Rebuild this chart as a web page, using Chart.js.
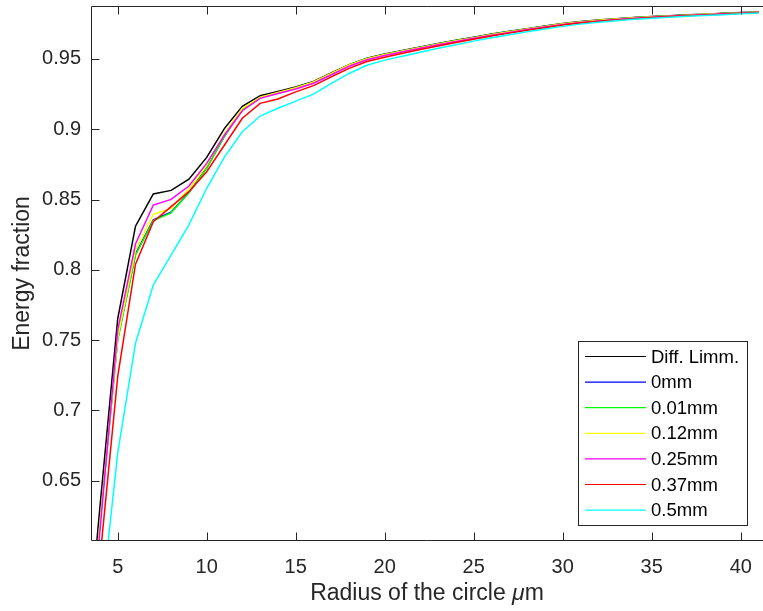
<!DOCTYPE html>
<html>
<head>
<meta charset="utf-8">
<script src="https://cdn.jsdelivr.net/npm/chart.js@4"></script>
<style>
  html, body { margin: 0; padding: 0; background: #fff; }
</style>
</head>
<body>
<canvas id="energyChart" width="763" height="611"></canvas>
<script>
// radius of the circle (um)
const radius = [3, 4, 5, 6, 7, 8, 9, 10, 11, 12, 13, 14, 15, 16, 17, 18, 19, 20, 21, 22,
  23, 24, 25, 26, 27, 28, 29, 30, 31, 32, 33, 34, 35, 36, 37, 38, 39, 40, 41];

const diffLimm = [0.491, 0.631, 0.765, 0.831, 0.854, 0.8565, 0.8645, 0.880, 0.9006, 0.9163,
  0.9238, 0.9268, 0.9300, 0.9340, 0.9400, 0.9460, 0.9505, 0.9535, 0.9560, 0.9585,
  0.9610, 0.9633, 0.9655, 0.9677, 0.9697, 0.9716, 0.9734, 0.9752, 0.9766, 0.9777,
  0.9787, 0.9795, 0.9802, 0.9808, 0.9814, 0.9819, 0.9825, 0.9830, 0.9835];
const mm0 = [0.480, 0.620, 0.751, 0.8112, 0.8355, 0.8410, 0.8550, 0.8725, 0.8952, 0.9141,
  0.9226, 0.9259, 0.9294, 0.9335, 0.9396, 0.9456, 0.9501, 0.9531, 0.9556, 0.9581,
  0.9606, 0.9629, 0.9651, 0.9673, 0.9693, 0.9713, 0.9731, 0.9749, 0.9763, 0.9774,
  0.9784, 0.9793, 0.9800, 0.9806, 0.9812, 0.9817, 0.9823, 0.9828, 0.9833];
const mm001 = [0.479, 0.619, 0.750, 0.8105, 0.8350, 0.8405, 0.8548, 0.8722, 0.8950, 0.9140,
  0.9225, 0.9258, 0.9293, 0.9335, 0.9396, 0.9456, 0.9501, 0.9531, 0.9557, 0.9582,
  0.9607, 0.9630, 0.9652, 0.9674, 0.9694, 0.9713, 0.9731, 0.9749, 0.9763, 0.9774,
  0.9784, 0.9793, 0.9800, 0.9806, 0.9812, 0.9817, 0.9823, 0.9828, 0.9833];
const mm012 = [0.478, 0.618, 0.752, 0.8141, 0.8395, 0.8437, 0.8575, 0.8745, 0.8971, 0.9149,
  0.9228, 0.9261, 0.9295, 0.9336, 0.9397, 0.9457, 0.9502, 0.9532, 0.9557, 0.9582,
  0.9607, 0.9630, 0.9652, 0.9674, 0.9694, 0.9713, 0.9732, 0.9750, 0.9764, 0.9775,
  0.9785, 0.9793, 0.9800, 0.9806, 0.9812, 0.9818, 0.9823, 0.9828, 0.9834];
const mm025 = [0.474, 0.614, 0.757, 0.8183, 0.8461, 0.8501, 0.8596, 0.8757, 0.8959, 0.9132,
  0.9220, 0.9255, 0.9286, 0.9327, 0.9388, 0.9448, 0.9494, 0.9525, 0.9551, 0.9576,
  0.9601, 0.9624, 0.9647, 0.9669, 0.9689, 0.9709, 0.9727, 0.9745, 0.9760, 0.9771,
  0.9781, 0.9790, 0.9797, 0.9804, 0.9810, 0.9815, 0.9821, 0.9826, 0.9832];
const mm037 = [0.454, 0.594, 0.724, 0.804, 0.8342, 0.8449, 0.8556, 0.8698, 0.8888, 0.9078,
  0.9184, 0.9215, 0.9266, 0.9310, 0.9373, 0.9433, 0.9482, 0.9513, 0.9541, 0.9567,
  0.9593, 0.9617, 0.9640, 0.9663, 0.9684, 0.9704, 0.9722, 0.9741, 0.9756, 0.9768,
  0.9778, 0.9787, 0.9795, 0.9802, 0.9808, 0.9813, 0.9819, 0.9825, 0.9831];
const mm05 = [0.430, 0.552, 0.6695, 0.7477, 0.7892, 0.8105, 0.8319, 0.8580, 0.8804, 0.8982,
  0.9094, 0.9149, 0.9200, 0.9250, 0.9326, 0.9397, 0.9455, 0.9492, 0.9520, 0.9548,
  0.9576, 0.9602, 0.9627, 0.9651, 0.9673, 0.9694, 0.9713, 0.9732, 0.9748, 0.9761,
  0.9772, 0.9782, 0.9790, 0.9797, 0.9804, 0.9809, 0.9815, 0.9821, 0.9827];

const seriesNames = ["Diff. Limm.", "0mm", "0.01mm", "0.12mm", "0.25mm", "0.37mm", "0.5mm"];
const seriesValues = [diffLimm, mm0, mm001, mm012, mm025, mm037, mm05];
const seriesColors = ["#000000", "#0000ff", "#00ff00", "#ffff00", "#ff00ff", "#ff0000", "#00ffff"];

const xTicks = [5, 10, 15, 20, 25, 30, 35, 40];
const yTicks = [0.65, 0.7, 0.75, 0.8, 0.85, 0.9, 0.95];

const axisColor = "#262626";
const fontFamily = "'Liberation Sans', Arial, Helvetica, sans-serif";

// frame with inward ticks, axis titles and boxed legend, like a matlab figure
const matlabAxes = {
  id: "matlabAxes",
  afterDatasetsDraw(chart) {
    const ctx = chart.ctx;
    const area = chart.chartArea;
    const xs = chart.scales.x;
    const ys = chart.scales.y;
    const left = Math.round(area.left) + 0.5;
    const top = Math.round(area.top) + 0.5;
    const bottom = Math.round(area.bottom) - 0.5;
    const right = area.right;
    const tick = 8;

    ctx.save();
    ctx.strokeStyle = axisColor;
    ctx.lineWidth = 1;
    ctx.beginPath();
    ctx.moveTo(right, top);
    ctx.lineTo(left, top);
    ctx.lineTo(left, bottom);
    ctx.lineTo(right, bottom);
    xTicks.forEach((v) => {
      const px = Math.round(xs.getPixelForValue(v)) + 0.5;
      ctx.moveTo(px, bottom);
      ctx.lineTo(px, bottom - tick);
      ctx.moveTo(px, top);
      ctx.lineTo(px, top + tick);
    });
    yTicks.forEach((v) => {
      const py = Math.round(ys.getPixelForValue(v)) + 0.5;
      ctx.moveTo(left, py);
      ctx.lineTo(left + tick, py);
    });
    ctx.stroke();

    // x title with italic mu
    ctx.fillStyle = axisColor;
    ctx.textBaseline = "middle";
    ctx.textAlign = "left";
    const normal = "23px " + fontFamily;
    const italic = "italic 23px " + fontFamily;
    const parts = [["Radius of the circle ", normal], ["\u03bc", italic], ["m", normal]];
    let total = 0;
    parts.forEach((p) => { ctx.font = p[1]; total += ctx.measureText(p[0]).width; });
    let tx = (area.left + area.right) / 2 - total / 2;
    parts.forEach((p) => {
      ctx.font = p[1];
      ctx.fillText(p[0], tx, 594);
      tx += ctx.measureText(p[0]).width;
    });

    // y title
    ctx.save();
    ctx.translate(23, (area.top + area.bottom) / 2);
    ctx.rotate(-Math.PI / 2);
    ctx.textAlign = "center";
    ctx.font = normal;
    ctx.fillText("Energy fraction", 0, 0);
    ctx.restore();

    // legend
    const boxL = 578.5, boxT = 341.5, boxR = 747.5, boxB = 525.5;
    ctx.fillStyle = "#ffffff";
    ctx.fillRect(boxL, boxT, boxR - boxL, boxB - boxT);
    ctx.strokeStyle = axisColor;
    ctx.strokeRect(boxL, boxT, boxR - boxL, boxB - boxT);
    ctx.font = "18.5px " + fontFamily;
    ctx.textAlign = "left";
    ctx.textBaseline = "middle";
    chart.data.datasets.forEach((ds, i) => {
      const y = 356.5 + i * 25.6;
      ctx.strokeStyle = ds.borderColor;
      ctx.lineWidth = 1.2;
      ctx.beginPath();
      ctx.moveTo(585, y);
      ctx.lineTo(646, y);
      ctx.stroke();
      ctx.fillStyle = "#000000";
      ctx.fillText(ds.label, 651, y + 1);
    });
    ctx.restore();
  }
};

new Chart(document.getElementById("energyChart"), {
  type: "line",
  data: {
    datasets: seriesNames.map((name, i) => ({
      label: name,
      data: radius.map((r, k) => ({ x: r, y: seriesValues[i][k] })),
      borderColor: seriesColors[i],
      backgroundColor: seriesColors[i],
      borderWidth: 1.5,
      pointRadius: 0,
      tension: 0,
      fill: false,
      order: seriesNames.length - i
    }))
  },
  options: {
    responsive: false,
    animation: false,
    layout: { padding: { top: 6, right: 0, bottom: 0, left: 0 } },
    plugins: {
      legend: { display: false },
      tooltip: { enabled: false }
    },
    scales: {
      x: {
        type: "linear",
        min: 3.5,
        max: 41.25,
        afterBuildTicks: (s) => { s.ticks = xTicks.map((v) => ({ value: v })); },
        afterFit: (s) => { s.height = 70; s.paddingLeft = 0; s.paddingRight = 0; },
        grid: { display: false, drawTicks: false },
        border: { display: false },
        ticks: {
          autoSkip: false,
          maxRotation: 0,
          padding: 14,
          color: axisColor,
          font: { family: fontFamily, size: 20 },
          callback: (v) => String(v)
        }
      },
      y: {
        min: 0.607,
        max: 0.9877,
        afterBuildTicks: (s) => { s.ticks = yTicks.map((v) => ({ value: v })); },
        afterFit: (s) => { s.width = 91; s.paddingTop = 0; s.paddingBottom = 0; },
        grid: { display: false, drawTicks: false },
        border: { display: false },
        ticks: {
          autoSkip: false,
          padding: 10,
          color: axisColor,
          font: { family: fontFamily, size: 20 },
          callback: (v) => String(v)
        }
      }
    }
  },
  plugins: [matlabAxes]
});
</script>
</body>
</html>
